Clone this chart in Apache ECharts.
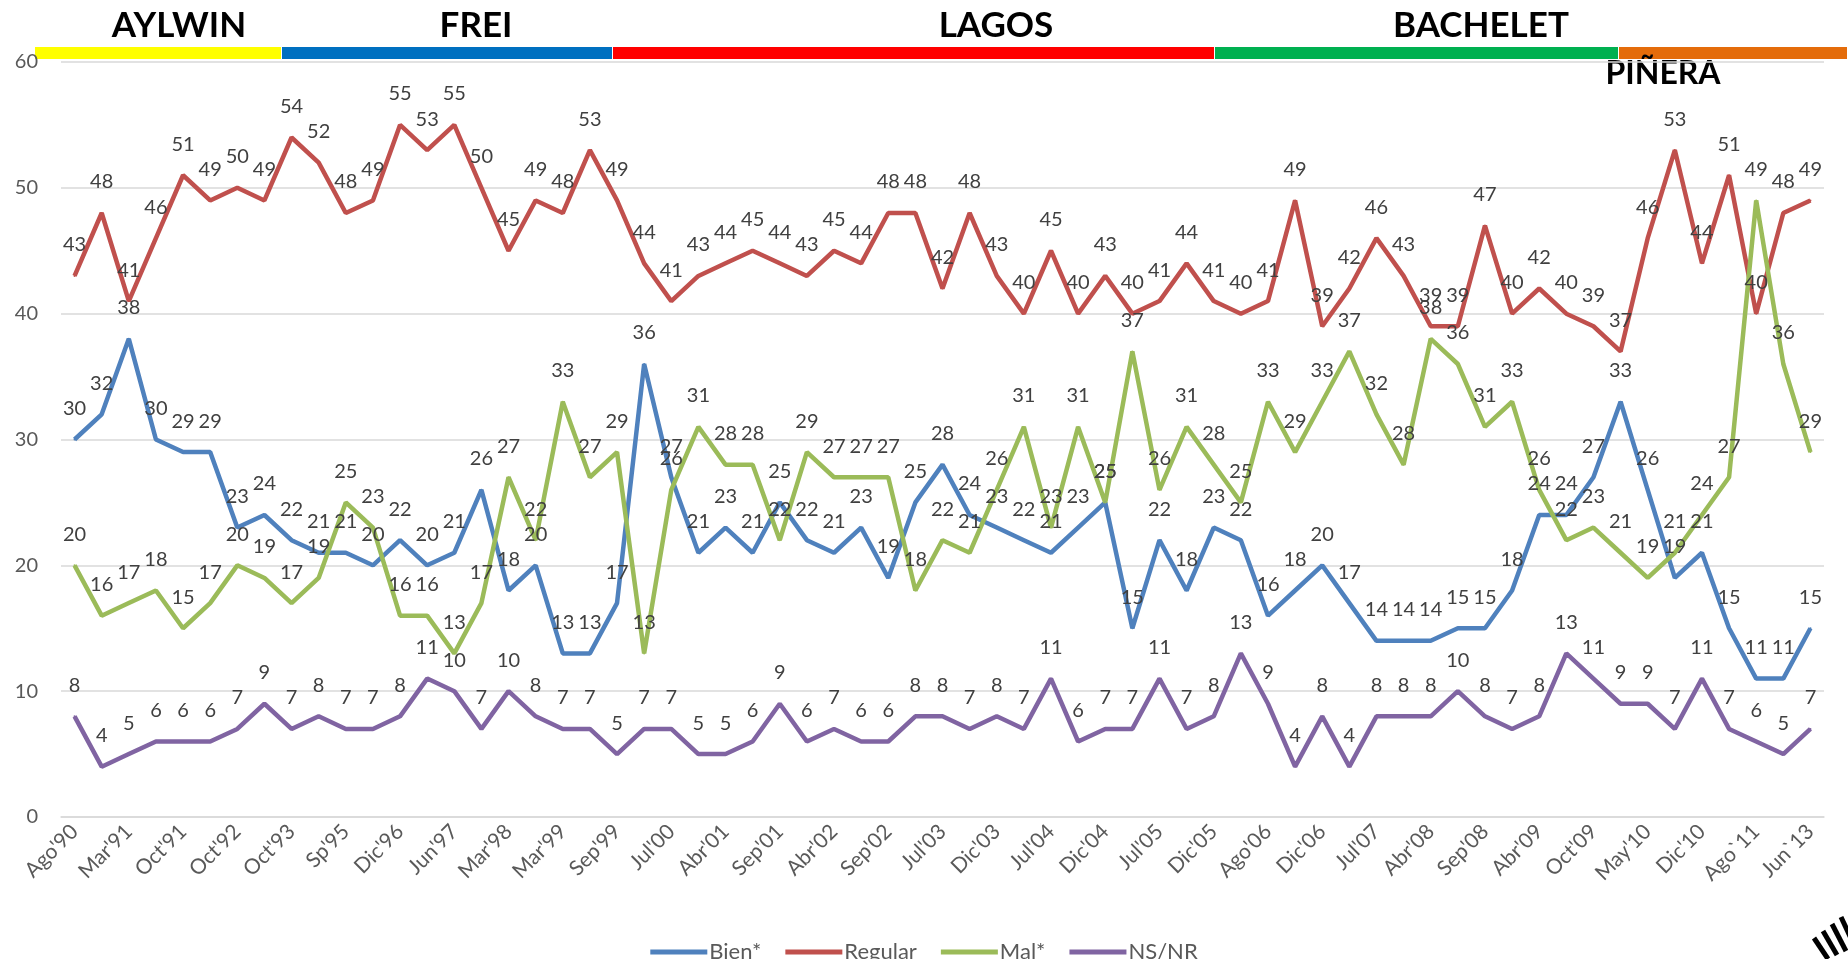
<!DOCTYPE html>
<html>
<head>
<meta charset="utf-8">
<script src="https://cdn.jsdelivr.net/npm/echarts@6/dist/echarts.min.js"></script>
<style>
  html, body { margin: 0; padding: 0; background: #fff; }
  #myChart { width: 1848px; height: 959px; }
</style>
</head>
<body>
<div id="myChart"></div>
<script>
// etiquetas del eje (una de cada dos mediciones lleva nombre)
var tickLabels = ["Ago'90", "Mar'91", "Oct'91", "Oct'92", "Oct'93", "Sp'95", "Dic'96", "Jun'97",
  "Mar'98", "Mar'99", "Sep'99", "Jul'00", "Abr'01", "Sep'01", "Abr'02", "Sep'02", "Jul'03",
  "Dic'03", "Jul'04", "Dic'04", "Jul'05", "Dic'05", "Ago'06", "Dic'06", "Jul'07", "Abr'08",
  "Sep'08", "Abr'09", "Oct'09", "May'10", "Dic'10", "Ago`11", "Jun`13"];

var bien = [30, 32, 38, 30, 29, 29, 23, 24, 22, 21, 21, 20, 22, 20, 21, 26, 18, 20, 13, 13, 17,
  36, 27, 21, 23, 21, 25, 22, 21, 23, 19, 25, 28, 24, 23, 22, 21, 23, 25, 15, 22, 18, 23, 22,
  16, 18, 20, 17, 14, 14, 14, 15, 15, 18, 24, 24, 27, 33, 26, 19, 21, 15, 11, 11, 15];
var regular = [43, 48, 41, 46, 51, 49, 50, 49, 54, 52, 48, 49, 55, 53, 55, 50, 45, 49, 48, 53, 49,
  44, 41, 43, 44, 45, 44, 43, 45, 44, 48, 48, 42, 48, 43, 40, 45, 40, 43, 40, 41, 44, 41, 40,
  41, 49, 39, 42, 46, 43, 39, 39, 47, 40, 42, 40, 39, 37, 46, 53, 44, 51, 40, 48, 49];
var mal = [20, 16, 17, 18, 15, 17, 20, 19, 17, 19, 25, 23, 16, 16, 13, 17, 27, 22, 33, 27, 29,
  13, 26, 31, 28, 28, 22, 29, 27, 27, 27, 18, 22, 21, 26, 31, 23, 31, 25, 37, 26, 31, 28, 25,
  33, 29, 33, 37, 32, 28, 38, 36, 31, 33, 26, 22, 23, 21, 19, 21, 24, 27, 49, 36, 29];
var nsnr = [8, 4, 5, 6, 6, 6, 7, 9, 7, 8, 7, 7, 8, 11, 10, 7, 10, 8, 7, 7, 5,
  7, 7, 5, 5, 6, 9, 6, 7, 6, 6, 8, 8, 7, 8, 7, 11, 6, 7, 7, 11, 7, 8, 13,
  9, 4, 8, 4, 8, 8, 8, 10, 8, 7, 8, 13, 11, 9, 9, 7, 11, 7, 6, 5, 7];

var presidents = ['AYLWIN', 'FREI', 'LAGOS', 'BACHELET', 'PIÑERA'];

var categories = [];
for (var i = 0; i < tickLabels.length; i++) {
  categories.push(tickLabels[i]);
  if (i < tickLabels.length - 1) categories.push('');
}

var FONT = 'Lato, "Open Sans", sans-serif';

function makeSeries(name, data, color) {
  return {
    name: name,
    type: 'line',
    data: data,
    symbol: 'circle',
    symbolSize: 2,
    showSymbol: true,
    lineStyle: { width: 4.5, color: color },
    itemStyle: { color: color },
    label: {
      show: true,
      position: 'top',
      distance: 20,
      color: '#404040',
      fontSize: 20,
      fontFamily: FONT
    },
    emphasis: { disabled: true }
  };
}

// barra de periodos presidenciales (decoración)
var barColors = ['#FFFF00', '#0070C0', '#FF0000', '#00B050', '#E46C0A'];
var barEdges = [35, 282, 613, 1215, 1619, 1848];
var nameX = [179, 476, 996, 1481, 1663];
var nameY = [26, 26, 26, 26, 74];

var graphics = [];
for (var p = 0; p < presidents.length; p++) {
  graphics.push({
    type: 'rect',
    shape: { x: barEdges[p], y: 47, width: barEdges[p + 1] - barEdges[p] - 1, height: 12 },
    style: { fill: barColors[p] },
    silent: true
  });
  graphics.push({
    type: 'text',
    x: nameX[p],
    y: nameY[p],
    style: {
      text: presidents[p],
      fill: '#000',
      font: 'bold ' + (p === 4 ? 32 : 35) + 'px ' + FONT,
      textAlign: 'center',
      textVerticalAlign: 'middle'
    },
    silent: true
  });
}
// trozo de logo en la esquina
for (var k = 0; k < 4; k++) {
  graphics.push({
    type: 'line',
    shape: { x1: 1814 + k * 9, y1: 938 - k * 7, x2: 1828 + k * 9, y2: 959 - k * 4 },
    style: { stroke: '#000', lineWidth: 5 },
    silent: true
  });
}

var myChart = echarts.init(document.getElementById('myChart'));
var option = {
  animation: false,
  backgroundColor: '#fff',
  color: ['#4F81BD', '#C0504D', '#9BBB59', '#8064A2'],
  grid: { left: 61, right: 24, top: 62, bottom: 142, containLabel: false },
  legend: {
    data: [
      { name: 'Bien*', icon: 'rect' },
      { name: 'Regular', icon: 'rect' },
      { name: 'Mal*', icon: 'rect' },
      { name: 'NS/NR', icon: 'rect' }
    ],
    left: 'center',
    top: 936,
    itemWidth: 57,
    itemHeight: 5,
    itemGap: 24,
    textStyle: { color: '#595959', fontSize: 22, fontFamily: FONT, padding: [0, 0, 0, -3] }
  },
  xAxis: {
    type: 'category',
    data: categories,
    boundaryGap: true,
    axisLine: { show: true, lineStyle: { color: '#D9D9D9', width: 1.5 } },
    axisTick: { show: false },
    splitLine: { show: false },
    axisLabel: {
      interval: 0,
      rotate: 45,
      margin: 11,
      color: '#595959',
      fontSize: 21,
      fontFamily: FONT
    }
  },
  yAxis: {
    type: 'value',
    min: 0,
    max: 60,
    interval: 10,
    axisLine: { show: false },
    axisTick: { show: false },
    splitLine: { lineStyle: { color: '#D9D9D9', width: 1.5 } },
    axisLabel: { color: '#595959', fontSize: 20, fontFamily: FONT, margin: 23 }
  },
  graphic: graphics,
  series: [
    makeSeries('Bien*', bien, '#4F81BD'),
    makeSeries('Regular', regular, '#C0504D'),
    makeSeries('Mal*', mal, '#9BBB59'),
    makeSeries('NS/NR', nsnr, '#8064A2')
  ]
};
myChart.setOption(option);
</script>
</body>
</html>
